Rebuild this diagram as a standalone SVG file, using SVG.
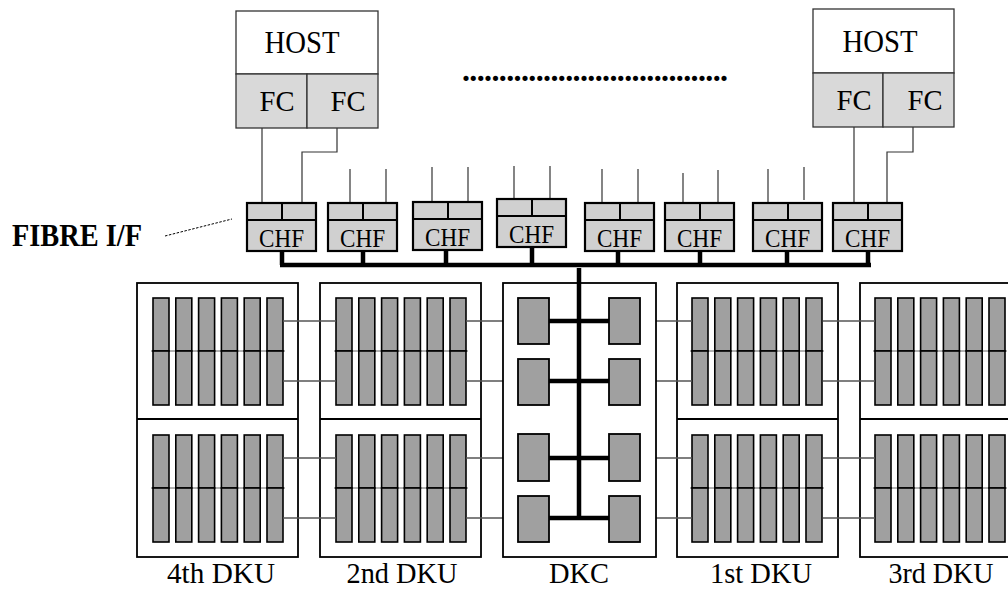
<svg xmlns="http://www.w3.org/2000/svg" xmlns:xlink="http://www.w3.org/1999/xlink" width="1008" height="590" viewBox="0 0 1008 590">
<style>
text{font-family:"Liberation Serif","Times New Roman",serif;fill:#000}
.lbl{font-size:30px;text-anchor:middle}
.host{fill:#fff;stroke:#333;stroke-width:1.3}
.fc{fill:#d9d9d9;stroke:#333;stroke-width:1.3}
.chf{fill:#d0d0d0;stroke:#000;stroke-width:2.2}
.chfl{fill:none;stroke:#000;stroke-width:2}
.wire{fill:none;stroke:#333;stroke-width:1.2}
.bus{fill:none;stroke:#000;stroke-width:4.5}
.box{fill:#fff;stroke:#000;stroke-width:1.8}
.disk{fill:#a0a0a0;stroke:#000;stroke-width:1.6}
.link{fill:none;stroke:#555;stroke-width:1.4}
.ctl{fill:#a0a0a0;stroke:#000;stroke-width:1.8}
</style>
<defs>
<g id="col"><rect class="disk" x="0" y="0" width="16" height="53"/><rect class="disk" x="0" y="53" width="16" height="54"/></g>
<g id="bank">
<line x1="-2" y1="53" x2="132" y2="53" stroke="#666" stroke-width="1"/>
<use xlink:href="#col" x="0"/><use xlink:href="#col" x="22.8"/><use xlink:href="#col" x="45.6"/><use xlink:href="#col" x="68.4"/><use xlink:href="#col" x="91.2"/><use xlink:href="#col" x="114"/>
</g>
<g id="chfbox"><rect class="chf" x="0" y="0" width="69" height="48"/><line class="chfl" x1="0" y1="17" x2="69" y2="17"/><line class="chfl" x1="35" y1="0" x2="35" y2="17"/><text x="34.5" y="44" font-size="25" text-anchor="middle" textLength="45" lengthAdjust="spacingAndGlyphs">CHF</text></g>
</defs>

<g id="connectors">
<polyline class="wire" points="262,128 262,203"/>
<polyline class="wire" points="337,128 337,152 302,152 302,203"/>
<polyline class="wire" points="854,127 854,203"/>
<polyline class="wire" points="913,127 913,152 887,152 887,203"/>
<line class="wire" x1="350" y1="169" x2="350" y2="203"/><line class="wire" x1="386" y1="169" x2="386" y2="203"/>
<line class="wire" x1="432" y1="167" x2="432" y2="202"/><line class="wire" x1="468" y1="167" x2="468" y2="202"/>
<line class="wire" x1="514" y1="166" x2="514" y2="200"/><line class="wire" x1="550" y1="166" x2="550" y2="200"/>
<line class="wire" x1="602" y1="169" x2="602" y2="202"/><line class="wire" x1="638" y1="169" x2="638" y2="202"/>
<line class="wire" x1="683" y1="173" x2="683" y2="204"/><line class="wire" x1="718" y1="170" x2="718" y2="202"/>
<line class="wire" x1="768" y1="169" x2="768" y2="202"/><line class="wire" x1="804" y1="167" x2="804" y2="200"/>
<line x1="165" y1="236" x2="232" y2="219" stroke="#000" stroke-width="1" stroke-dasharray="2.5,1.5"/>
<line class="bus" x1="280" y1="265" x2="871" y2="265"/>
<line class="bus" x1="282" y1="251" x2="282" y2="265"/>
<line class="bus" x1="363" y1="251" x2="363" y2="265"/>
<line class="bus" x1="446" y1="250" x2="446" y2="265"/>
<line class="bus" x1="532" y1="247" x2="532" y2="265"/>
<line class="bus" x1="618" y1="252" x2="618" y2="265"/>
<line class="bus" x1="700" y1="252" x2="700" y2="265"/>
<line class="bus" x1="787" y1="252" x2="787" y2="265"/>
<line class="bus" x1="868" y1="251" x2="868" y2="265"/>
</g>

<g id="host-left">
<rect class="host" x="236" y="11" width="142" height="63"/>
<rect class="fc" x="236" y="74" width="71" height="54"/>
<rect class="fc" x="307" y="74" width="71" height="54"/>
<text x="302" y="53" font-size="31" text-anchor="middle" textLength="75" lengthAdjust="spacingAndGlyphs">HOST</text>
<text x="277" y="111" font-size="30" text-anchor="middle" textLength="35" lengthAdjust="spacingAndGlyphs">FC</text>
<text x="348" y="111" font-size="30" text-anchor="middle" textLength="35" lengthAdjust="spacingAndGlyphs">FC</text>
</g>
<g id="host-right">
<rect class="host" x="813" y="9" width="141" height="64"/>
<rect class="fc" x="813" y="73" width="70" height="54"/>
<rect class="fc" x="883" y="73" width="71" height="54"/>
<text x="880" y="52" font-size="31" text-anchor="middle" textLength="75" lengthAdjust="spacingAndGlyphs">HOST</text>
<text x="854" y="110" font-size="30" text-anchor="middle" textLength="35" lengthAdjust="spacingAndGlyphs">FC</text>
<text x="925" y="110" font-size="30" text-anchor="middle" textLength="35" lengthAdjust="spacingAndGlyphs">FC</text>
</g>
<g id="ellipsis"><text x="462" y="81" font-size="32" font-weight="bold" textLength="266" lengthAdjust="spacing">....................................</text></g>
<g id="fibre-label"><text x="12" y="246" font-size="32" font-weight="bold" textLength="130" lengthAdjust="spacingAndGlyphs">FIBRE I/F</text></g>

<g id="chf1"><use xlink:href="#chfbox" x="247" y="203"/></g>
<g id="chf2"><use xlink:href="#chfbox" x="328" y="203"/></g>
<g id="chf3"><use xlink:href="#chfbox" x="413" y="202"/></g>
<g id="chf4"><use xlink:href="#chfbox" x="497" y="199"/></g>
<g id="chf5"><use xlink:href="#chfbox" x="585" y="203"/></g>
<g id="chf6"><use xlink:href="#chfbox" x="665" y="203"/></g>
<g id="chf7"><use xlink:href="#chfbox" x="753" y="203"/></g>
<g id="chf8"><use xlink:href="#chfbox" x="833" y="203"/></g>

<g id="dku4">
<rect class="box" x="137" y="283" width="161" height="274"/><line class="box" x1="137" y1="419" x2="298" y2="419"/>
<use xlink:href="#bank" x="153" y="298"/><use xlink:href="#bank" x="153" y="435"/>
<text class="lbl" x="221" y="583" textLength="108" lengthAdjust="spacingAndGlyphs">4th DKU</text>
</g>
<g id="dku2">
<rect class="box" x="320" y="283" width="161" height="274"/><line class="box" x1="320" y1="419" x2="481" y2="419"/>
<use xlink:href="#bank" x="336" y="298"/><use xlink:href="#bank" x="336" y="435"/>
<text class="lbl" x="402" y="583" textLength="111" lengthAdjust="spacingAndGlyphs">2nd DKU</text>
</g>
<g id="dku1">
<rect class="box" x="677" y="283" width="161" height="274"/><line class="box" x1="677" y1="419" x2="838" y2="419"/>
<use xlink:href="#bank" x="692" y="298"/><use xlink:href="#bank" x="692" y="435"/>
<text class="lbl" x="761" y="583" textLength="102" lengthAdjust="spacingAndGlyphs">1st DKU</text>
</g>
<g id="dku3">
<rect class="box" x="860" y="283" width="161" height="274"/><line class="box" x1="860" y1="419" x2="1021" y2="419"/>
<use xlink:href="#bank" x="875" y="298"/><use xlink:href="#bank" x="875" y="435"/>
<text class="lbl" x="941" y="583" textLength="105" lengthAdjust="spacingAndGlyphs">3rd DKU</text>
</g>

<g id="links">
<line class="link" x1="283" y1="321" x2="336" y2="321"/><line class="link" x1="283" y1="381" x2="336" y2="381"/>
<line class="link" x1="283" y1="458" x2="336" y2="458"/><line class="link" x1="283" y1="518" x2="336" y2="518"/>
<line class="link" x1="466" y1="321" x2="518" y2="321"/><line class="link" x1="466" y1="381" x2="518" y2="381"/>
<line class="link" x1="466" y1="458" x2="518" y2="458"/><line class="link" x1="466" y1="518" x2="518" y2="518"/>
<line class="link" x1="640" y1="321" x2="692" y2="321"/><line class="link" x1="640" y1="381" x2="692" y2="381"/>
<line class="link" x1="640" y1="458" x2="692" y2="458"/><line class="link" x1="640" y1="518" x2="692" y2="518"/>
<line class="link" x1="823" y1="321" x2="875" y2="321"/><line class="link" x1="823" y1="381" x2="875" y2="381"/>
<line class="link" x1="823" y1="458" x2="875" y2="458"/><line class="link" x1="823" y1="518" x2="875" y2="518"/>
</g>

<g id="dkc">
<rect class="box" x="503" y="283" width="153" height="274"/>
<line class="bus" x1="579" y1="268" x2="579" y2="520"/>
<line class="bus" x1="549" y1="321" x2="609" y2="321"/>
<line class="bus" x1="549" y1="381" x2="609" y2="381"/>
<line class="bus" x1="549" y1="458" x2="609" y2="458"/>
<line class="bus" x1="549" y1="518" x2="609" y2="518"/>
<rect class="ctl" x="518" y="298" width="31" height="46"/><rect class="ctl" x="609" y="298" width="31" height="46"/>
<rect class="ctl" x="518" y="359" width="31" height="46"/><rect class="ctl" x="609" y="359" width="31" height="46"/>
<rect class="ctl" x="518" y="434" width="31" height="47"/><rect class="ctl" x="609" y="434" width="31" height="47"/>
<rect class="ctl" x="518" y="496" width="31" height="46"/><rect class="ctl" x="609" y="496" width="31" height="46"/>
<text class="lbl" x="579" y="583" textLength="60" lengthAdjust="spacingAndGlyphs">DKC</text>
</g>
</svg>
